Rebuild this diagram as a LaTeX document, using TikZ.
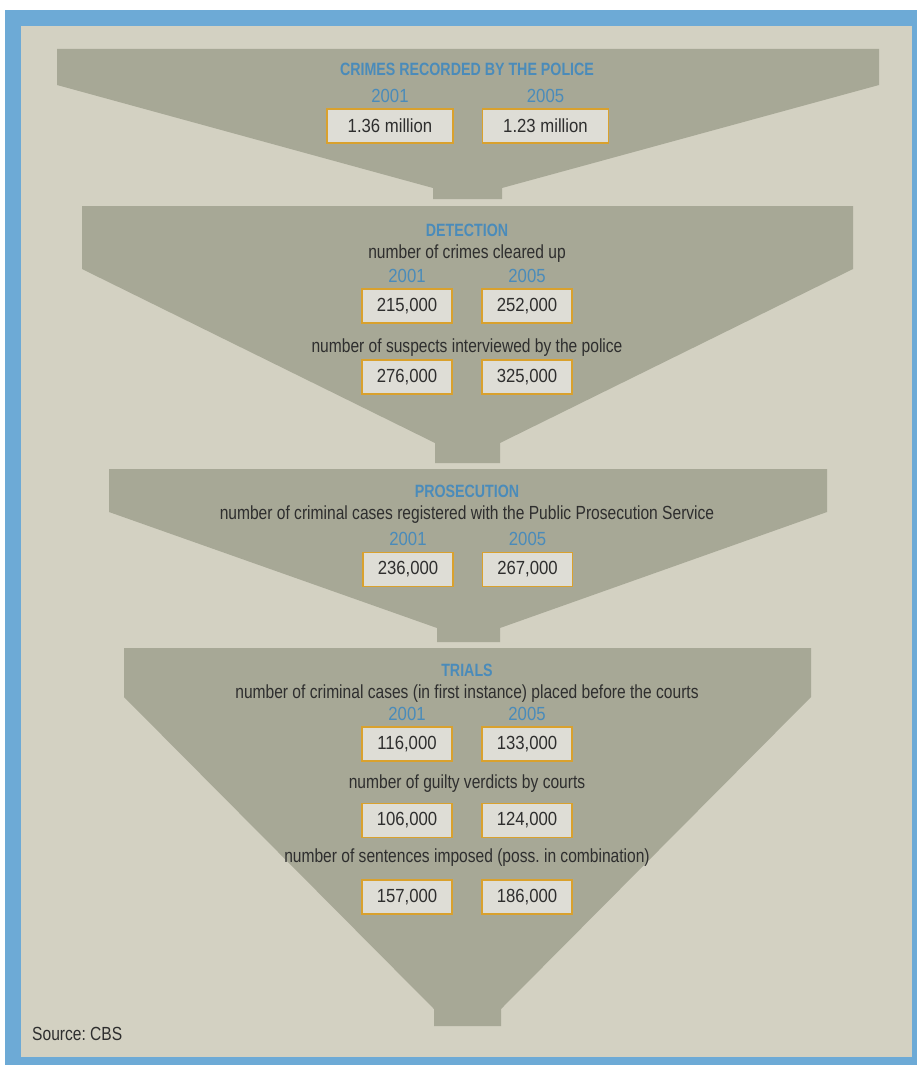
\documentclass[tikz,border=0pt]{standalone}
\usepackage{fontspec}
\setmainfont[FakeStretch=0.82]{Liberation Sans}
\newfontfamily\headfont[FakeStretch=0.8]{Liberation Sans}
\newfontfamily\numfont[FakeStretch=0.88]{Liberation Sans}
\usepackage{xcolor}
\usepackage{tikz}
\usetikzlibrary{positioning}
\definecolor{Frame}{HTML}{6DAAD6}
\definecolor{Sand}{HTML}{D3D1C2}
\definecolor{Funnel}{HTML}{A7A896}
\definecolor{BoxFill}{HTML}{DEDDD6}
\definecolor{BoxLine}{HTML}{D9A12E}
\definecolor{Head}{HTML}{4A8BBA}
\definecolor{Ink}{HTML}{2E2E2E}
\frenchspacing

\begin{document}
\begin{tikzpicture}[x=1pt,y=-1pt,
  head/.style={anchor=base,font=\headfont\bfseries\fontsize{17.8}{20}\selectfont,text=Head},
  note/.style={anchor=base,font=\fontsize{19}{22}\selectfont,text=Ink},
  year/.style={anchor=base,font=\numfont\fontsize{19}{22}\selectfont,text=Head},
  valbox/.style={draw=BoxLine,line width=1.4pt,fill=BoxFill,text=Ink,minimum width=90pt,minimum height=34pt,inner sep=0pt,font=\numfont\fontsize{19}{22}\selectfont},
  widebox/.style={valbox,minimum width=126pt}]
\useasboundingbox (0,0) rectangle (917,1065);
% frame
\fill[Frame] (5,10) rectangle (917,1065);
\fill[Sand] (21,26) rectangle (912,1057);
% funnels
\fill[Funnel] (57,49) -- (879,49) -- (879,85) -- (502,188) -- (502,199) -- (433,199) -- (433,188) -- (57,85) -- cycle;
\fill[Funnel] (82,206) -- (853,206) -- (853,269) -- (500,443) -- (500,463) -- (435,463) -- (435,443) -- (82,269) -- cycle;
\fill[Funnel] (109,469) -- (827,469) -- (827,512) -- (500,628) -- (500,642) -- (437,642) -- (437,628) -- (109,512) -- cycle;
\fill[Funnel] (124,648) -- (811,648) -- (811,697) -- (501,1009) -- (501,1026) -- (434,1026) -- (434,1009) -- (124,697) -- cycle;
% crimes recorded
\node[head] (t1) at (467,75) {CRIMES RECORDED BY THE POLICE};
\node[year] (y1a) at (390,102) {2001};
\node[year] (y1b) at (545.5,102) {2005};
\node[widebox] (b1a) at (390,126) {1.36 million};
\node[widebox] (b1b) at (545.5,126) {1.23 million};
% detection
\node[head] (t2) at (467,236) {DETECTION};
\node[note] (n2a) at (467,258) {number of crimes cleared up};
\node[year] (y2a) at (407,282) {2001};
\node[year] (y2b) at (527,282) {2005};
\node[valbox] (b2a) at (407,306) {215,000};
\node[valbox] (b2b) at (527,306) {252,000};
\node[note] (n2b) at (467,352) {number of suspects interviewed by the police};
\node[valbox] (b2c) at (407,377) {276,000};
\node[valbox] (b2d) at (527,377) {325,000};
% prosecution
\node[head] (t3) at (467,497) {PROSECUTION};
\node[note] (n3a) at (467,519) {number of criminal cases registered with the Public Prosecution Service};
\node[year] (y3a) at (408,545) {2001};
\node[year] (y3b) at (527.5,545) {2005};
\node[valbox] (b3a) at (408,569.5) {236,000};
\node[valbox] (b3b) at (527.5,569.5) {267,000};
% trials
\node[head] (t4) at (467,676) {TRIALS};
\node[note] (n4a) at (467,698) {number of criminal cases (in first instance) placed before the courts};
\node[year] (y4a) at (407,720) {2001};
\node[year] (y4b) at (527,720) {2005};
\node[valbox] (b4a) at (407,744) {116,000};
\node[valbox] (b4b) at (527,744) {133,000};
\node[note] (n4b) at (467,788) {number of guilty verdicts by courts};
\node[valbox] (b4c) at (407,820.5) {106,000};
\node[valbox] (b4d) at (527,820.5) {124,000};
\node[note] (n4c) at (467,862) {number of sentences imposed (poss. in combination)};
\node[valbox] (b4e) at (407,897) {157,000};
\node[valbox] (b4f) at (527,897) {186,000};
% source
\node[note,anchor=base west,inner xsep=0pt] (src) at (32,1040) {Source: CBS};
\end{tikzpicture}
\end{document}
